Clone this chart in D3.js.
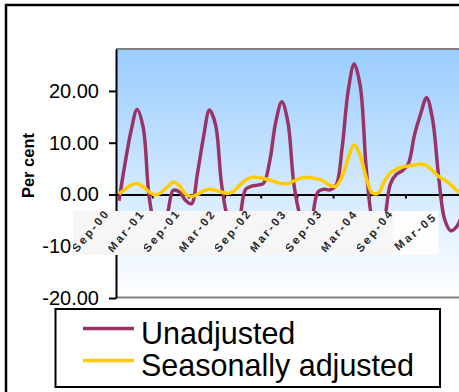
<!DOCTYPE html>
<html>
<head>
<meta charset="utf-8">
<script src="https://cdn.jsdelivr.net/npm/d3@7"></script>
<style>
  body { margin: 0; background: #fff; }
  svg text { font-family: "Liberation Sans", Arial, sans-serif; }
</style>
</head>
<body>
<div id="chart"></div>
<script>
// Category labels shown under the axis (one every six months)
var xLabels = ["Sep-00", "Mar-01", "Sep-01", "Mar-02", "Sep-02", "Mar-03", "Sep-03", "Mar-04", "Sep-04", "Mar-05"];
var yTicks = [-20, -10, 0, 10, 20];

// Monthly values, per cent
var unadjusted = [-1.2, 6, 12.3, 16.4, 13, -0.5, -6, -7, -4, 0.8, 0.5, -1.1, -1.8, 4, 11, 16.3, 13.5, 2, -4.5, -7,
  -4.5, 1, 1.6, 1.8, 2.2, 6.5, 14, 17.9, 14, 2, -4, -7, -4.5, 0.5, 1, 0.9, 1.8, 9, 20, 25.2,
  21, 5, -5, -8, -5, 2, 3.9, 4.6, 6, 11.5, 15.5, 18.7, 14.5, 3.5, -4.8, -7, -6.2, -3.5];
var seasonallyAdjusted = [0.1, 1.0, 1.8, 2.1, 1.5, 0.5, -0.1, 0.4, 1.4, 2.4, 1.7, 0.1, -0.4, 0.0, 0.7, 1.0, 0.8, 0.5, 0.2, 0.6,
  1.8, 2.8, 3.3, 3.3, 3.1, 2.8, 2.4, 2.1, 2.1, 2.6, 3.1, 3.3, 3.2, 3.0, 2.5, 1.7, 1.6, 3.5, 7.0, 9.6,
  7.5, 3.2, 0.3, 0.3, 2.5, 4.2, 4.9, 5.3, 5.5, 5.7, 5.9, 5.6, 4.6, 3.5, 2.8, 1.9, 0.8, -0.2];

var seriesNames = ["Unadjusted", "Seasonally adjusted"];
var seriesColors = ["#993366", "#ffcc00"];

var svgWidth = 459, svgHeight = 392;
var plotLeft = 116, plotTop = 49, plotBottom = 298;

var svg = d3.select("#chart").append("svg")
  .attr("width", svgWidth)
  .attr("height", svgHeight);

// gradient for the plot area
var grad = svg.append("defs").append("linearGradient")
  .attr("id", "bg").attr("x1", 0).attr("y1", 0).attr("x2", 0).attr("y2", 1);
grad.append("stop").attr("offset", "0%").attr("stop-color", "#99ccff");
grad.append("stop").attr("offset", "100%").attr("stop-color", "#ffffff");

// outer chart border
svg.append("rect")
  .attr("x", 6).attr("y", 5)
  .attr("width", 480).attr("height", 420)
  .attr("fill", "#fff")
  .attr("stroke", "#000").attr("stroke-width", 2.5);

// scales
var x = d3.scaleLinear().domain([-0.5, 57.5]).range([plotLeft, plotLeft + 58 * 6.03]);
var y = d3.scaleLinear().domain([-20, 28.1]).range([plotBottom, plotTop]);

// plot area
svg.append("rect")
  .attr("x", plotLeft).attr("y", plotTop)
  .attr("width", 400).attr("height", plotBottom - plotTop)
  .attr("fill", "url(#bg)");
svg.append("line")
  .attr("x1", plotLeft).attr("x2", svgWidth + 5)
  .attr("y1", plotTop).attr("y2", plotTop)
  .attr("stroke", "#808080").attr("stroke-width", 2);
svg.append("line")
  .attr("x1", plotLeft).attr("x2", svgWidth + 5)
  .attr("y1", plotBottom - 0.5).attr("y2", plotBottom - 0.5)
  .attr("stroke", "#808080").attr("stroke-width", 2);

// y axis
var leftAxis = d3.axisLeft(y)
  .tickValues(yTicks)
  .tickSize(7)
  .tickSizeOuter(0)
  .tickPadding(10)
  .tickFormat(d => d.toFixed(2));

var yAxisG = svg.append("g")
  .attr("transform", `translate(${plotLeft}, 0)`)
  .call(leftAxis);
yAxisG.select(".domain").attr("stroke", "#000").attr("stroke-width", 2);
yAxisG.selectAll(".tick line").attr("stroke", "#000").attr("stroke-width", 2);
yAxisG.selectAll(".tick text")
  .attr("fill", "#000")
  .style("font-size", "20px");

// category axis along zero
var tickIdx = d3.range(1, 10).map(k => 6 * k - 0.5);
var bottomAxis = d3.axisBottom(x)
  .tickValues(tickIdx)
  .tickSize(4)
  .tickSizeOuter(0)
  .tickFormat("");
var xAxisG = svg.append("g")
  .attr("transform", `translate(0, ${y(0)})`)
  .call(bottomAxis);
xAxisG.select(".domain").attr("stroke", "#000").attr("stroke-width", 2);
xAxisG.selectAll(".tick line").attr("stroke", "#000").attr("stroke-width", 2);

// lines
var line = d3.line()
  .x((d, i) => x(i))
  .y(d => y(d))
  .curve(d3.curveCatmullRom.alpha(0.5));

[unadjusted, seasonallyAdjusted].forEach(function (data, s) {
  svg.append("path")
    .datum(data)
    .attr("d", line)
    .attr("fill", "none")
    .attr("stroke", seriesColors[s])
    .attr("stroke-width", 3.5)
    .attr("stroke-linejoin", "round");
});

// category labels on their boxes
var labelScale = d3.scaleBand().domain(xLabels).range([73, 73 + 35.5 * 10]).padding(0);
var labelG = svg.selectAll(".xlab")
  .data(xLabels)
  .enter()
  .append("svg")
  .attr("class", "xlab")
  .attr("x", d => labelScale(d))
  .attr("y", 211)
  .attr("width", (d, i) => i === xLabels.length - 1 ? labelScale.bandwidth() + 10.5 : labelScale.bandwidth() + 0.5)
  .attr("height", 44);
labelG.append("rect")
  .attr("width", 60).attr("height", 44)
  .attr("fill", (d, i) => i === xLabels.length - 1 ? "#fdfdfd" : "#f6f6f6");
labelG.append("text")
  .attr("transform", (d, i) => i === xLabels.length - 1 ? "translate(6, 40) rotate(-40)" : "translate(4, 42) rotate(-50)")
  .attr("fill", "#2a2a2a")
  .style("font-size", "11.5px")
  .style("font-weight", "bold")
  .style("letter-spacing", "2.4px")
  .text(d => d);

// y axis title
svg.append("text")
  .attr("transform", "translate(34, 165.5) rotate(-90)")
  .attr("text-anchor", "middle")
  .style("font-size", "16.5px")
  .style("font-weight", "bold")
  .text("Per cent");

// legend
svg.append("rect")
  .attr("x", 55.5).attr("y", 309)
  .attr("width", 384.5).attr("height", 78)
  .attr("fill", "#fff")
  .attr("stroke", "#000").attr("stroke-width", 2);

var legend = svg.selectAll(".legend")
  .data(seriesNames)
  .enter()
  .append("g")
  .attr("class", "legend")
  .attr("transform", (d, i) => `translate(0, ${328.5 + i * 32})`);
legend.append("line")
  .attr("x1", 83).attr("x2", 134)
  .attr("stroke", (d, i) => seriesColors[i])
  .attr("stroke-width", 3.5);
legend.append("text")
  .attr("x", 141)
  .attr("y", 15)
  .style("font-size", "30.5px")
  .text(d => d);
</script>
</body>
</html>
